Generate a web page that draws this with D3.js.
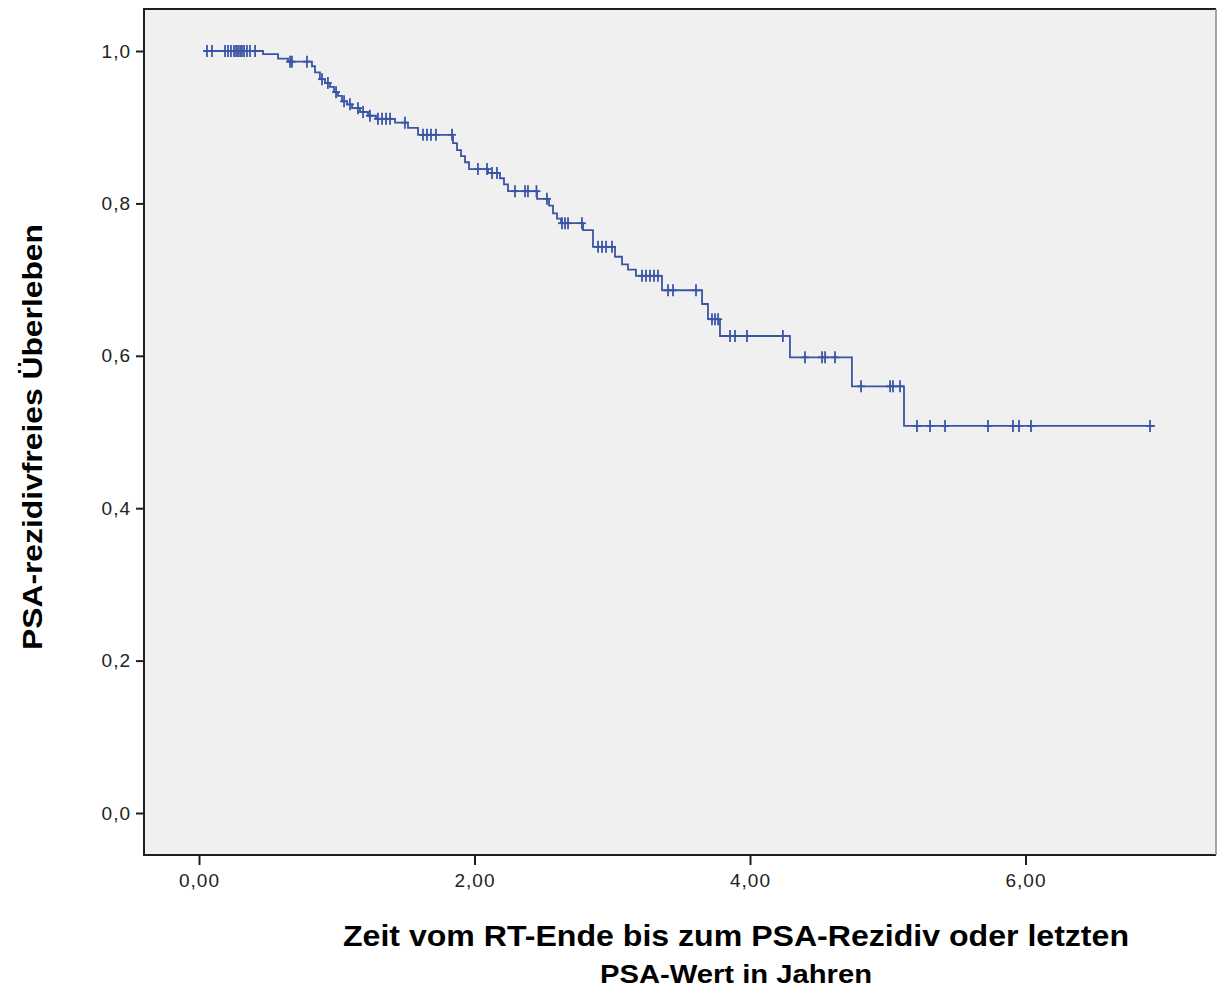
<!DOCTYPE html>
<html>
<head>
<meta charset="utf-8">
<script src="https://cdn.jsdelivr.net/npm/d3@7"></script>
<style>
  body { margin: 0; background: #ffffff; }
  svg { display: block; }
</style>
</head>
<body>
<div id="chart"></div>
<script>
(function() {

//------------------------------------------------------------------------------
// Data
//------------------------------------------------------------------------------

var startTime = 0.04;
var endTime = 6.94;

// time of each drop and survival just after it
var eventTimes = [0.465, 0.574, 0.646, 0.820, 0.842, 0.878, 0.915, 0.951, 0.980, 1.009,
  1.038, 1.074, 1.111, 1.169, 1.227, 1.285, 1.423, 1.517, 1.590, 1.844,
  1.873, 1.902, 1.931, 1.960, 2.098, 2.185, 2.214, 2.243, 2.454, 2.541,
  2.570, 2.599, 2.628, 2.788, 2.860, 3.020, 3.071, 3.114, 3.172, 3.361,
  3.652, 3.695, 3.782, 4.290, 4.740, 5.118];
var survival = [0.996, 0.990, 0.986, 0.980, 0.972, 0.963, 0.958, 0.953, 0.946, 0.941,
  0.934, 0.930, 0.925, 0.920, 0.915, 0.911, 0.906, 0.899, 0.890, 0.879,
  0.870, 0.862, 0.854, 0.845, 0.840, 0.833, 0.825, 0.816, 0.806, 0.797,
  0.787, 0.780, 0.774, 0.765, 0.743, 0.730, 0.720, 0.713, 0.705, 0.686,
  0.668, 0.648, 0.626, 0.598, 0.560, 0.508];

// censored observations
var censorTimes = [0.058, 0.094, 0.189, 0.211, 0.232, 0.254, 0.269, 0.283, 0.298, 0.312,
  0.327, 0.348, 0.370, 0.407, 0.661, 0.675, 0.784, 0.893, 0.936, 0.995,
  1.053, 1.096, 1.154, 1.191, 1.241, 1.299, 1.329, 1.358, 1.387, 1.495,
  1.626, 1.655, 1.684, 1.720, 1.837, 2.025, 2.091, 2.127, 2.163, 2.294,
  2.367, 2.388, 2.450, 2.526, 2.635, 2.657, 2.679, 2.780, 2.897, 2.926,
  2.955, 2.998, 3.216, 3.245, 3.274, 3.303, 3.332, 3.405, 3.441, 3.608,
  3.724, 3.746, 3.768, 3.855, 3.891, 3.978, 4.239, 4.399, 4.523, 4.545,
  4.617, 4.806, 5.017, 5.038, 5.089, 5.212, 5.307, 5.416, 5.728, 5.909,
  5.953, 6.040, 6.904];

var xTicks = [0, 2, 4, 6];
var yTicks = [0, 0.2, 0.4, 0.6, 0.8, 1.0];

var xTitle1 = "Zeit vom RT-Ende bis zum PSA-Rezidiv oder letzten";
var xTitle2 = "PSA-Wert in Jahren";
var yTitle = "PSA-rezidivfreies \u00dcberleben";

//------------------------------------------------------------------------------
// Layout
//------------------------------------------------------------------------------

var W = 1217, H = 987;
var frame = {left: 144, top: 9, right: 1216, bottom: 855};
var curveColor = "#3a55a6";
var font = "Liberation Sans, Arial, Helvetica, sans-serif";

var x = d3.scaleLinear().domain([0, 6]).range([199, 1025.5]);
var y = d3.scaleLinear().domain([0, 1]).range([813, 51]);

var svg = d3.select("#chart").append("svg")
  .attr("width", W)
  .attr("height", H);

svg.append("rect")
  .attr("x", 0).attr("y", 0)
  .attr("width", W).attr("height", H)
  .attr("fill", "#ffffff");

// plot area
svg.append("rect")
  .attr("x", frame.left)
  .attr("y", frame.top)
  .attr("width", frame.right - frame.left)
  .attr("height", frame.bottom - frame.top)
  .attr("fill", "#f0f0f0")
  .attr("stroke", "none");

//--------------------------------------
// Curve
//--------------------------------------

var pts = [[startTime, 1]];
eventTimes.forEach(function(t, i) { pts.push([t, survival[i]]); });
pts.push([endTime, survival[survival.length - 1]]);

var line = d3.line()
  .x(function(d) { return x(d[0]); })
  .y(function(d) { return y(d[1]); })
  .curve(d3.curveStepAfter);

svg.append("path")
  .datum(pts)
  .attr("d", line)
  .attr("fill", "none")
  .attr("stroke", curveColor)
  .attr("stroke-width", 1.8);

function survAt(t) {
  var s = 1;
  for (var i = 0; i < eventTimes.length; i++) {
    if (eventTimes[i] <= t) s = survival[i];
  }
  return s;
}

var marks = svg.append("g").attr("class", "censor")
  .selectAll("g")
  .data(censorTimes)
  .enter().append("g")
  .attr("transform", function(d) { return "translate(" + x(d) + "," + y(survAt(d)) + ")"; });

marks.append("line")
  .attr("x1", 0).attr("x2", 0)
  .attr("y1", -6).attr("y2", 6)
  .attr("stroke", curveColor)
  .attr("stroke-width", 1.8);
marks.append("line")
  .attr("x1", -4).attr("x2", 4)
  .attr("y1", 0).attr("y2", 0)
  .attr("stroke", curveColor)
  .attr("stroke-width", 1.8);

//--------------------------------------
// Frame and axes
//--------------------------------------

svg.append("path")
  .attr("d", "M" + frame.right + "," + frame.top + "H" + frame.left + "V" + frame.bottom + "H" + frame.right)
  .attr("fill", "none")
  .attr("stroke", "#1e1e1e")
  .attr("stroke-width", 2);
svg.append("line")
  .attr("x1", frame.right).attr("x2", frame.right)
  .attr("y1", frame.top).attr("y2", frame.bottom)
  .attr("stroke", "#888888")
  .attr("stroke-width", 1.5);

var fmtY = function(d) { return d3.format(".1f")(d).replace(".", ","); };
var fmtX = function(d) { return d3.format(".2f")(d).replace(".", ","); };

var yAxis = svg.append("g")
  .attr("transform", "translate(" + frame.left + ",0)")
  .call(d3.axisLeft(y).tickValues(yTicks).tickFormat(fmtY).tickSize(8).tickPadding(5));

var xAxis = svg.append("g")
  .attr("transform", "translate(0," + frame.bottom + ")")
  .call(d3.axisBottom(x).tickValues(xTicks).tickFormat(fmtX).tickSize(10).tickPadding(9));

[yAxis, xAxis].forEach(function(g) {
  g.select(".domain").remove();
  g.selectAll(".tick line").attr("stroke", "#1e1e1e").attr("stroke-width", 2);
  g.selectAll(".tick text")
    .attr("fill", "#222222")
    .style("font-family", font)
    .style("font-size", "19px")
    .style("letter-spacing", "1px");
});

//--------------------------------------
// Titles
//--------------------------------------

svg.append("text")
  .attr("transform", "translate(42,437) rotate(-90)")
  .attr("text-anchor", "middle")
  .attr("textLength", 426)
  .attr("lengthAdjust", "spacingAndGlyphs")
  .style("font-family", font)
  .style("font-weight", "bold")
  .style("font-size", "27px")
  .attr("fill", "#000000")
  .text(yTitle);

svg.append("text")
  .attr("x", 736)
  .attr("y", 946)
  .attr("text-anchor", "middle")
  .attr("textLength", 786)
  .attr("lengthAdjust", "spacingAndGlyphs")
  .style("font-family", font)
  .style("font-weight", "bold")
  .style("font-size", "29px")
  .attr("fill", "#000000")
  .text(xTitle1);

svg.append("text")
  .attr("x", 736)
  .attr("y", 983)
  .attr("text-anchor", "middle")
  .attr("textLength", 272)
  .attr("lengthAdjust", "spacingAndGlyphs")
  .style("font-family", font)
  .style("font-weight", "bold")
  .style("font-size", "25px")
  .attr("fill", "#000000")
  .text(xTitle2);

})();
</script>
</body>
</html>
